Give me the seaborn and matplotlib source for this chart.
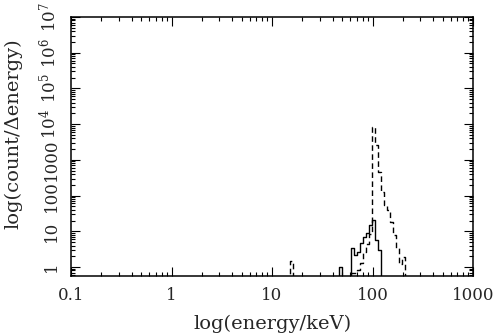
import numpy as np
import pandas as pd
import matplotlib
matplotlib.use("Agg")
import matplotlib.pyplot as plt
import matplotlib.ticker as mticker
import seaborn as sns

# Bin edges (keV)
edges = [14.0, 15.1, 16.2, 46.5, 49.8, 61.1, 65.5, 70.2, 75.2, 80.4, 86.1, 92.3,
         98.9, 105.9, 113.5, 121.6, 130.1, 139.4, 149.4, 160.0, 171.5, 183.7,
         196.8, 210.6, 225.6, 240.0]
# count / delta-energy per bin
solid_vals = [0, 0, 0, 1.0, 0, 3.4, 2.2, 2.6, 4.7, 6.9, 9.0, 15, 21, 5.7, 3.0,
              0, 0, 0, 0, 0, 0, 0, 0, 0, 0]
dashed_vals = [0, 1.5, 0, 0, 0, 0.7, 0.7, 0.8, 1.3, 2.6, 4.5, 8.4, 8300, 2600,
               460, 126, 55, 39, 18, 7.9, 3.4, 1.2, 1.9, 0, 0]

x_ticks = [0.1, 1, 10, 100, 1000]
x_labels = ["0.1", "1", "10", "100", "1000"]
y_ticks = [1, 10, 100, 1000, 1e4, 1e5, 1e6, 1e7]
y_labels = ["1", "10", "100", "1000", r"$10^{4}$", r"$10^{5}$", r"$10^{6}$", r"$10^{7}$"]

sns.set_style("white")
plt.rcParams["font.family"] = ["DejaVu Serif"]
plt.rcParams["mathtext.fontset"] = "dejavuserif"

centers = [np.sqrt(edges[i] * edges[i + 1]) for i in range(len(edges) - 1)]
df = pd.DataFrame({"energy": centers, "solid": solid_vals, "dashed": dashed_vals})

fig = plt.figure(figsize=(5.0, 3.36), dpi=100)
ax = fig.add_axes([71 / 500, 1 - 276 / 336, (473 - 71) / 500, (276 - 17) / 336])

sns.histplot(data=df, x="energy", weights="solid", bins=edges, element="step",
             fill=False, color="black", linewidth=1.0, ax=ax)
sns.histplot(data=df, x="energy", weights="dashed", bins=edges, element="step",
             fill=False, color="black", linewidth=1.0, linestyle=(0, (4, 2.5)), ax=ax)

ax.set_xscale("log")
ax.set_yscale("log")
ax.set_xlim(0.1, 1000)
ax.set_ylim(0.56, 1e7)

ax.xaxis.set_major_locator(mticker.FixedLocator(x_ticks))
ax.xaxis.set_major_formatter(mticker.FixedFormatter(x_labels))
ax.xaxis.set_minor_locator(mticker.LogLocator(base=10, subs=np.arange(2, 10), numticks=50))
ax.xaxis.set_minor_formatter(mticker.NullFormatter())
ax.yaxis.set_major_locator(mticker.FixedLocator(y_ticks))
ax.yaxis.set_major_formatter(mticker.FixedFormatter(y_labels))
ax.yaxis.set_minor_locator(mticker.LogLocator(base=10, subs=np.arange(2, 10), numticks=50))
ax.yaxis.set_minor_formatter(mticker.NullFormatter())

ax.tick_params(which="both", direction="in", top=True, right=True, bottom=True, left=True,
               color="black", width=0.8)
ax.tick_params(which="major", length=6.5)
ax.tick_params(which="minor", length=3)
ax.tick_params(axis="x", which="major", labelsize=12, pad=8)
ax.tick_params(axis="y", which="major", labelsize=12, pad=8)
for lab in ax.get_yticklabels():
    lab.set_rotation(90)
    lab.set_va("center")

for sp in ax.spines.values():
    sp.set_linewidth(1.1)
    sp.set_color("black")

ax.set_xlabel("log(energy/keV)", fontsize=14)
ax.set_ylabel("log(count/\u0394energy)", fontsize=14)
ax.xaxis.set_label_coords(0.5, -0.15)
ax.yaxis.set_label_coords(-0.12, 0.55)

fig.savefig("out.png", dpi=100)
